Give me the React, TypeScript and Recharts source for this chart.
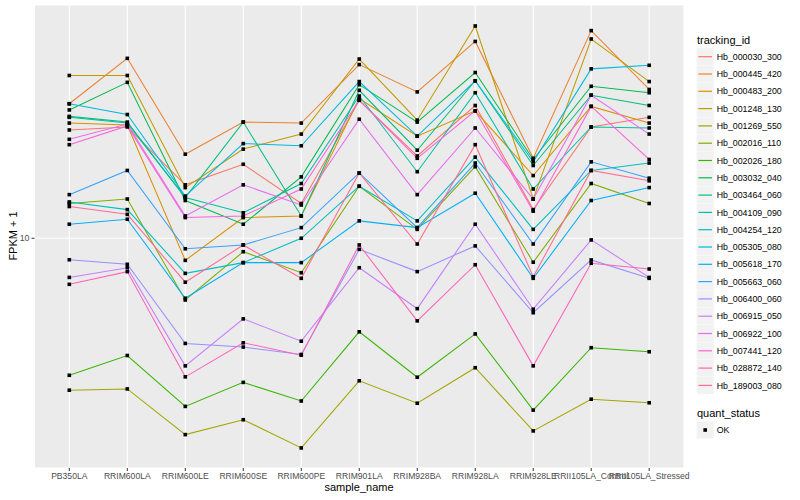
import React from 'react';
import { LineChart, Line, XAxis, YAxis, CartesianGrid } from 'recharts';

const categories = ['PB350LA', 'RRIM600LA', 'RRIM600LE', 'RRIM600SE', 'RRIM600PE', 'RRIM901LA', 'RRIM928BA', 'RRIM928LA', 'RRIM928LE', 'RRII105LA_Control', 'RRII105LA_Stressed'];

const yTicks = [10];

const hb_000030_300 = [18.1, 18.4, 13.4, 15.0, 12.1, 21.3, 15.7, 20.7, 11.7, 18.4, 19.4];
const hb_000445_420 = [20.9, 26.8, 15.85, 18.9, 18.8, 25.9, 22.3, 29.4, 15.5, 31.2, 22.6];
const hb_000483_200 = [18.8, 18.6, 8.86, 11.2, 11.3, 21.5, 17.5, 20.1, 14.1, 20.6, 18.8];
const hb_001248_130 = [24.4, 24.4, 13.2, 16.3, 17.7, 26.7, 19.1, 32.0, 12.4, 29.8, 23.6];
const hb_001269_550 = [4.35, 4.38, 3.41, 3.70, 3.17, 4.58, 4.05, 4.92, 3.48, 4.14, 4.06];
const hb_002016_110 = [12.1, 12.4, 7.13, 9.29, 8.28, 13.3, 10.5, 14.8, 8.77, 13.5, 12.1];
const hb_002026_180 = [4.72, 5.26, 3.98, 4.54, 4.10, 5.99, 4.67, 5.92, 3.90, 5.49, 5.37];
const hb_003032_040 = [20.2, 23.5, 12.3, 10.8, 14.0, 23.2, 18.9, 24.8, 15.4, 23.0, 22.2];
const hb_003464_060 = [19.5, 18.9, 12.5, 18.9, 11.3, 22.5, 16.2, 23.7, 14.9, 21.9, 20.7];
const hb_004109_090 = [19.4, 18.8, 12.5, 11.5, 13.5, 21.8, 14.4, 22.2, 13.1, 18.4, 18.3];
const hb_004254_120 = [12.2, 11.7, 8.25, 8.75, 10.0, 13.3, 11.0, 15.6, 10.5, 14.5, 15.1];
const hb_005305_080 = [20.9, 19.7, 12.6, 16.8, 16.6, 23.6, 17.5, 23.7, 15.2, 25.3, 25.8];
const hb_005618_170 = [10.8, 11.1, 7.20, 8.75, 8.75, 11.0, 10.6, 12.8, 8.03, 12.3, 13.2];
const hb_005663_060 = [12.7, 14.5, 9.44, 9.64, 10.6, 14.3, 10.6, 15.1, 9.69, 15.2, 13.9];
const hb_006400_060 = [8.89, 8.67, 5.62, 5.51, 5.29, 9.41, 8.33, 9.59, 6.65, 8.88, 8.03];
const hb_006915_050 = [8.07, 8.51, 4.97, 6.43, 5.69, 8.51, 6.80, 10.8, 6.78, 9.91, 8.07];
const hb_006922_100 = [17.2, 18.7, 11.3, 13.4, 12.0, 19.2, 12.7, 18.3, 12.4, 21.9, 17.7];
const hb_007441_120 = [16.7, 18.5, 11.2, 11.3, 13.1, 21.3, 15.5, 20.1, 11.6, 20.6, 15.4];
const hb_028872_140 = [7.77, 8.33, 4.68, 5.64, 5.27, 9.64, 6.36, 8.65, 4.97, 8.72, 8.45];
const hb_189003_080 = [11.9, 11.4, 7.86, 9.64, 8.03, 14.3, 9.69, 16.7, 8.10, 14.5, 13.7];

const trackingIds = ['Hb_000030_300', 'Hb_000445_420', 'Hb_000483_200', 'Hb_001248_130', 'Hb_001269_550', 'Hb_002016_110', 'Hb_002026_180', 'Hb_003032_040', 'Hb_003464_060', 'Hb_004109_090', 'Hb_004254_120', 'Hb_005305_080', 'Hb_005618_170', 'Hb_005663_060', 'Hb_006400_060', 'Hb_006915_050', 'Hb_006922_100', 'Hb_007441_120', 'Hb_028872_140', 'Hb_189003_080'];

const seriesValues = [hb_000030_300, hb_000445_420, hb_000483_200, hb_001248_130, hb_001269_550, hb_002016_110, hb_002026_180, hb_003032_040, hb_003464_060, hb_004109_090, hb_004254_120, hb_005305_080, hb_005618_170, hb_005663_060, hb_006400_060, hb_006915_050, hb_006922_100, hb_007441_120, hb_028872_140, hb_189003_080];

const colors = ['#F8766D', '#EA8331', '#D89000', '#C09B00', '#A3A500', '#7CAE00', '#39B600', '#00BB4E', '#00BF7D', '#00C1A3', '#00BFC4', '#00BAE0', '#00B0F6', '#35A2FF', '#9590FF', '#C77CFF', '#E76BF3', '#FA62DB', '#FF62BC', '#FF6C91'];

const rows = categories.map((c, i) => {
  const r: any = { sample_name: c };
  trackingIds.forEach((id, k) => {
    r[id] = seriesValues[k][i];
  });
  return r;
});

const FONT = '"Liberation Sans", Arial, Helvetica, sans-serif';

const SquareDot = (props: any) => {
  const { cx, cy, index, dataKey } = props;
  if (cx == null || cy == null) return <g key={`n-${dataKey}-${index}`} />;
  return <rect key={`d-${dataKey}-${index}`} x={cx - 1.8} y={cy - 1.8} width={3.6} height={3.6} fill="#000" />;
};

export default function App() {
  return (
    <div style={{ position: 'absolute', left: 0, top: 0, width: 800, height: 500, background: '#fff', fontFamily: FONT }}>
      <LineChart width={800} height={500} data={rows} margin={{ top: 5, right: 116, bottom: 0, left: 0 }}>
        <CartesianGrid fill="#EBEBEB" stroke="#FFFFFF" strokeWidth={1.1} />
        <XAxis
          dataKey="sample_name"
          type="category"
          padding={{ left: 34.8, right: 34.8 }}
          height={32}
          axisLine={false}
          tickSize={3}
          tickMargin={1.5}
          tickLine={{ stroke: '#333333' }}
          interval={0}
          tick={{ fontSize: 8.6, fill: '#4D4D4D', fontFamily: FONT }}
        />
        <YAxis
          type="number"
          scale="log"
          domain={[2.84, 35.9]}
          allowDataOverflow
          ticks={yTicks}
          width={34.5}
          axisLine={false}
          tickSize={3}
          tickMargin={2}
          tickLine={{ stroke: '#333333' }}
          tick={{ fontSize: 8.8, fill: '#4D4D4D', fontFamily: FONT }}
        />
        {trackingIds.map((id, k) => (
          <Line key={`l-${id}`} dataKey={id} stroke={colors[k]} strokeWidth={1.05} dot={false} activeDot={false} isAnimationActive={false} type="linear" />
        ))}
        {trackingIds.map((id) => (
          <Line key={`p-${id}`} dataKey={id} stroke="none" dot={SquareDot} activeDot={false} isAnimationActive={false} legendType="none" />
        ))}
      </LineChart>

      <div style={{ position: 'absolute', left: 0, top: 480, width: 718, textAlign: 'center', fontSize: 11, color: '#000', lineHeight: '14px' }}>sample_name</div>
      <div style={{ position: 'absolute', left: 13, top: 236, transform: 'translate(-50%, -50%) rotate(-90deg)', fontSize: 11, color: '#000', whiteSpace: 'nowrap', lineHeight: '14px' }}>FPKM + 1</div>

      <svg width={110} height={460} style={{ position: 'absolute', left: 690, top: 0 }}>
        <text x={7} y={44} fontSize={11} fill="#000" fontFamily={FONT}>tracking_id</text>
        {trackingIds.map((id, k) => {
          const cy = 56.7 + k * 17.3;
          return (
            <g key={`lg-${id}`}>
              <rect x={6.7} y={cy - 8.5} width={17} height={17} fill="#F2F2F2" />
              <line x1={8.4} x2={22} y1={cy} y2={cy} stroke={colors[k]} strokeWidth={1.2} />
              <text x={26.7} y={cy + 3.1} fontSize={8.8} fill="#000" fontFamily={FONT}>{id}</text>
            </g>
          );
        })}
        <text x={7} y={416.5} fontSize={11} fill="#000" fontFamily={FONT}>quant_status</text>
        <rect x={6.7} y={421.5} width={17} height={17} fill="#F2F2F2" />
        <rect x={13.4} y={428.2} width={3.6} height={3.6} fill="#000" />
        <text x={26.7} y={433.1} fontSize={8.8} fill="#000" fontFamily={FONT}>OK</text>
      </svg>
    </div>
  );
}
